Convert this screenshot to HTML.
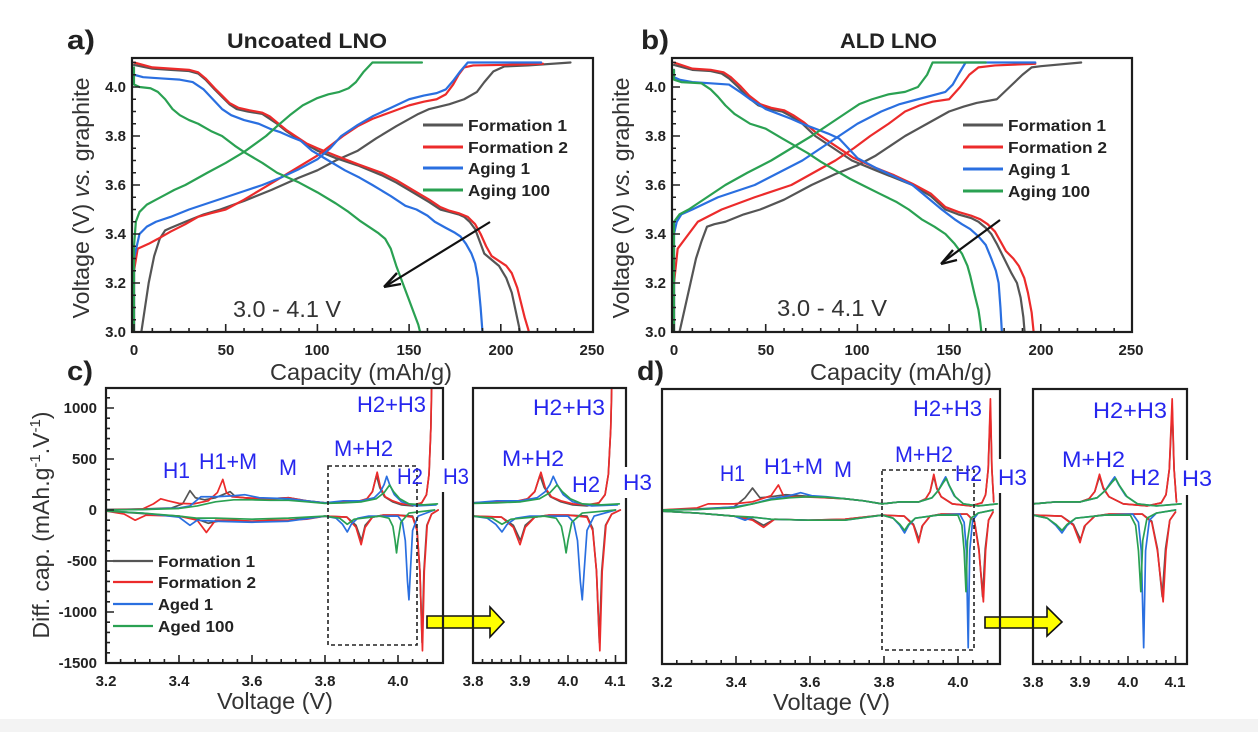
<!DOCTYPE html>
<html><head><meta charset="utf-8"><style>
html,body{margin:0;padding:0;background:#fff;}
svg{display:block;}
text{font-family:"Liberation Sans",Arial,sans-serif;}
polyline,path{vector-effect:non-scaling-stroke;}
.c1{stroke:#555;}.c2{stroke:#ec2b2b;}.c3{stroke:#2a6fe0;}.c4{stroke:#2aa152;}
.cv polyline{fill:none;stroke-width:2.2;stroke-linejoin:round;stroke-linecap:round;}
.dq polyline{fill:none;stroke-width:1.7;stroke-linejoin:round;stroke-linecap:round;}
.tk{fill:none;stroke:#222;stroke-width:1.6;}
.fr{fill:none;stroke:#1d1d1d;stroke-width:2.2;}
.tl{font-weight:bold;font-size:15px;fill:#222;}
.lg{font-weight:bold;font-size:16px;fill:#222;}
.ax{font-size:23px;fill:#333;}
.bl{font-size:22px;fill:#2626ee;}
</style></head><body>
<svg width="1258" height="732" viewBox="0 0 1258 732" xmlns="http://www.w3.org/2000/svg">
<defs>
<clipPath id="ca"><rect x="132" y="58" width="461" height="274"/></clipPath>
<clipPath id="cb"><rect x="672" y="58" width="460" height="274"/></clipPath>
<clipPath id="cc"><rect x="106" y="388" width="337" height="275"/></clipPath>
<clipPath id="cci"><rect x="473" y="388" width="153" height="275"/></clipPath>
<clipPath id="cd"><rect x="662" y="389" width="338" height="275"/></clipPath>
<clipPath id="cdi"><rect x="1033" y="389" width="154" height="275"/></clipPath>
</defs>
<rect x="0" y="0" width="1258" height="732" fill="#fff"/>
<rect x="0" y="719" width="1258" height="13" fill="#f3f3f3"/>

<!-- ============ PANEL A ============ -->
<g clip-path="url(#ca)"><g class="cv" transform="translate(134 1067) scale(1.834 -2.45)">
<polyline class="c1" points="4,300 6,310 8,320 11,331 14,338 17,341.5 20,342.5 28,345 38,348 47,350 60,353.5 75,358 90,363 100,366 110,370 122,374 132,379 143,384 155,389 161,391 172,393 180,395 187,398 191,402 196,406.4 202,408.4 215,408.8 238,410"/>
<polyline class="c1" points="0,409 10,407.5 20,407 30,406.5 35,405.5 39,403 44,399 48,396 52,393 56,391 62,390 70,389 74,387 78,385 83,382 87,380 93,377 100,374 110,371 122,368 135,364 143,361 152,357 161,353 167,350 172,349 177,348 180,347 183,345 186,342 189,336 191,332 195,329.5 199,327 203,322 206,316 208,309 210,302 211,297"/>
<polyline class="c2" points="0,297 0,325 2,334 8,336 13,338 20,341 28,344 35,347 42,348.5 50,350 55,352 60,354 70,358.5 80,363 90,367.5 100,372 107,376 114,380 122,384 130,387 141,390 150,392.5 158,394 165,395 170,397 174,401 177,405 180,408 185,408.8 200,409 223,409.5"/>
<polyline class="c2" points="0,410 10,408 20,407.5 30,407 35,406 39,403.5 44,399.5 48,396.5 52,393.5 57,391.5 63,390.5 70,389.5 74,388 78,385.5 83,382.5 88,380 94,377 100,375 110,372 122,368.5 135,365 143,362 152,358 161,354 167,351 172,349.5 177,348.5 182,347 186,344 189,340 192,335 195,331 199,329 203,327 206,324 209,318 211,312 213,306 215,301 216,297"/>
<polyline class="c3" points="0,297 0,330 3,340 7,343 12,345 20,347 30,350 40,352.5 50,355 60,357.5 70,360 80,363 90,366.5 100,370.5 107,375 113,380 122,384.5 130,388 140,391.5 150,395 158,396.5 165,397.5 170,399 174,402.5 178,406.5 182,410 222,410"/>
<polyline class="c3" points="0,405 5,404 15,403.5 25,403 32,402 38,399 43,395 48,391 53,388.5 60,386.5 68,385 74,383 80,381.5 86,379.5 91,378 97,374 106,370 115,366 123,363 130,360 140,355.5 148,351.5 154,350 160,347.5 164,345 170,342.5 175,340.5 178,339 181,336 184,332 186,328 187.5,322 189,310 190,300 190.5,297"/>
<polyline class="c4" points="0,297 0,335 1,345 3,349 7,352 12,354 17,356 22,358 28,360 40,365 50,369 60,373.5 72,380 78,384 85,388.5 92,392.5 100,395.5 106,397 112,398 117,399.5 121,402 125,406 130,410 157,410"/>
<polyline class="c4" points="0,408 0,401 3,400 9,399.5 13,398 17,395 21,391 25,388.5 30,386.5 35,385 42,382 48,380 55,376 61,373 70,369 78,365 90,361 100,357 110,352.5 117,349 123,345.5 128,343 133,340.5 137,338 140,334 143,327 147,319 150,313 153,307 155,303 157,297"/>
</g></g>
<path class="tk" transform="translate(134 0) scale(1.834 1)" d="M0 332v-8M50 332v-8M100 332v-8M150 332v-8M200 332v-8M10 332v-4M20 332v-4M30 332v-4M40 332v-4M60 332v-4M70 332v-4M80 332v-4M90 332v-4M110 332v-4M120 332v-4M130 332v-4M140 332v-4M160 332v-4M170 332v-4M180 332v-4M190 332v-4M210 332v-4M220 332v-4M230 332v-4M240 332v-4"/>
<path class="tk" transform="translate(0 1067) scale(1 -2.45)" d="M132 320h8M132 340h8M132 360h8M132 380h8M132 400h8M132 305h4M132 310h4M132 315h4M132 325h4M132 330h4M132 335h4M132 345h4M132 350h4M132 355h4M132 365h4M132 370h4M132 375h4M132 385h4M132 390h4M132 395h4M132 405h4M132 410h4"/>
<rect class="fr" x="132" y="58" width="461" height="274"/>
<path d="M490 222L386 286" stroke="#111" stroke-width="2.2" fill="none"/>
<path d="M384 287L397 273M384 287L401 284" stroke="#111" stroke-width="2.4" fill="none"/>
<g stroke-width="3"><path class="c1" d="M423 125h40"/><path class="c2" d="M423 147h40"/><path class="c3" d="M423 168h40"/><path class="c4" d="M423 190h40"/></g>
<text class="lg" x="468" y="131" textLength="99" lengthAdjust="spacingAndGlyphs">Formation 1</text>
<text class="lg" x="468" y="153" textLength="100" lengthAdjust="spacingAndGlyphs">Formation 2</text>
<text class="lg" x="468" y="174" textLength="62" lengthAdjust="spacingAndGlyphs">Aging 1</text>
<text class="lg" x="468" y="196" textLength="82" lengthAdjust="spacingAndGlyphs">Aging 100</text>
<g class="tl" text-anchor="middle"><text x="134" y="355">0</text><text x="226" y="355">50</text><text x="317" y="355">100</text><text x="409" y="355">150</text><text x="501" y="355">200</text><text x="592" y="355">250</text></g>
<g class="tl" text-anchor="end"><text x="126" y="337">3.0</text><text x="126" y="288">3.2</text><text x="126" y="239">3.4</text><text x="126" y="190">3.6</text><text x="126" y="141">3.8</text><text x="126" y="92">4.0</text></g>
<text x="67" y="49" font-size="27" font-weight="bold" fill="#222" textLength="28" lengthAdjust="spacingAndGlyphs">a)</text>
<text x="227" y="48" font-size="21" font-weight="bold" fill="#222" textLength="160" lengthAdjust="spacingAndGlyphs">Uncoated LNO</text>
<text class="ax" x="233" y="317" textLength="108" lengthAdjust="spacingAndGlyphs">3.0 - 4.1 V</text>
<text class="ax" x="270" y="380" textLength="182" lengthAdjust="spacingAndGlyphs">Capacity (mAh/g)</text>
<text class="ax" transform="translate(89 198) rotate(-90)" text-anchor="middle" textLength="241" lengthAdjust="spacingAndGlyphs">Voltage (V) <tspan font-style="italic">vs.</tspan> graphite</text>

<!-- ============ PANEL B ============ -->
<g clip-path="url(#cb)"><g class="cv" transform="translate(674 1067) scale(1.834 -2.45)">
<polyline class="c1" points="3,300 6,310 9,320 12,330 15,337 18,343 22,344 28,345 38,348 47,350 60,354 75,360 88,364.5 100,368 110,372 126,380 138,385 150,390 158,392 165,393.5 176,395 183,400 190,405 195,408 200,408.5 222,410"/>
<polyline class="c1" points="0,409 10,407 20,406.5 26,405.5 30,403.5 35,400 40,396 46,392.5 52,391 59,390 64,388 70,385 77,380 87,375 97,370 110,366 120,363 130,360 140,355.5 148,350 155,348 162,346.5 166,345 170,342.5 173,340 176,336 180,330 184,324 187,320 189,314 190.5,306 191.5,297"/>
<polyline class="c2" points="0,297 0,320 2,334 6,338 13,345 26,350 44,355 64,360 76,365 88,370 98,375 107,380 117,385 126,390 134,392.5 141,394 150,395 156,400 161,405 166,408 175,408.8 197,409.5"/>
<polyline class="c2" points="0,410 10,407.5 20,407 27,406 31,404 36,400.5 41,396.5 47,393 53,391.5 60,390.5 65,388.5 71,385.5 78,381 88,376 98,371 110,367 120,364 130,360.5 140,356.5 148,351 155,349 162,347.5 167,346 171,344 175,341 178,337 181,333 185,330 188,327 191,322 193,316 195,308 196.5,297"/>
<polyline class="c3" points="0,297 0,340 1.5,345 4,348 10,350 24,355 44,360 57,365 70,370 80,375 90,380 100,385 113,390 123,393 133,395 148,398 152,401 155,405 159,410 197,410"/>
<polyline class="c3" points="0,407 0,404 3,403 10,402 20,401.5 30,401 36,398 41.5,395 46,393 50,391 57,389 64,387 70,385 77,383 84,381 90,379 95,375 100,371 110,367 120,363.5 130,360 138,355 146,350 153,346 157,344 161.5,342 166,339 170,335.5 173,330 175.5,325 177,320 178,310 179,297"/>
<polyline class="c4" points="0,297 0,345 3,348 8,350 18,355 28,360 40,365 53,370 64,375 75,380 85,385 95,390 101,393 108,395 117,397 126,398 133,400 138,405 141,410 170,410"/>
<polyline class="c4" points="0,407 0,403 4,402 15,401.5 20,399 24,396 28,392.5 33,389 41.5,385 50,383 59,379 66,376 73,373 80,369.5 88,366 96,362.5 104,359.5 112,356.5 121.5,353 128,350 135,346 142,343 148,340 153,336 157,332 160,327 161.5,323 164,315 166,309 167,304 168,297"/>
</g></g>
<path class="tk" transform="translate(674 0) scale(1.834 1)" d="M0 332v-8M50 332v-8M100 332v-8M150 332v-8M200 332v-8M10 332v-4M20 332v-4M30 332v-4M40 332v-4M60 332v-4M70 332v-4M80 332v-4M90 332v-4M110 332v-4M120 332v-4M130 332v-4M140 332v-4M160 332v-4M170 332v-4M180 332v-4M190 332v-4M210 332v-4M220 332v-4M230 332v-4M240 332v-4"/>
<path class="tk" transform="translate(0 1067) scale(1 -2.45)" d="M672 320h8M672 340h8M672 360h8M672 380h8M672 400h8M672 305h4M672 310h4M672 315h4M672 325h4M672 330h4M672 335h4M672 345h4M672 350h4M672 355h4M672 365h4M672 370h4M672 375h4M672 385h4M672 390h4M672 395h4M672 405h4M672 410h4"/>
<rect class="fr" x="672" y="58" width="460" height="274"/>
<path d="M1000 220L943 262" stroke="#111" stroke-width="2.2" fill="none"/>
<path d="M941 264L953 250M941 264L957 260" stroke="#111" stroke-width="2.4" fill="none"/>
<g stroke-width="3"><path class="c1" d="M963 125h40"/><path class="c2" d="M963 147h40"/><path class="c3" d="M963 169h40"/><path class="c4" d="M963 191h40"/></g>
<text class="lg" x="1008" y="131" textLength="98" lengthAdjust="spacingAndGlyphs">Formation 1</text>
<text class="lg" x="1008" y="153" textLength="99" lengthAdjust="spacingAndGlyphs">Formation 2</text>
<text class="lg" x="1008" y="175" textLength="62" lengthAdjust="spacingAndGlyphs">Aging 1</text>
<text class="lg" x="1008" y="197" textLength="82" lengthAdjust="spacingAndGlyphs">Aging 100</text>
<g class="tl" text-anchor="middle"><text x="674" y="355">0</text><text x="766" y="355">50</text><text x="857" y="355">100</text><text x="949" y="355">150</text><text x="1041" y="355">200</text><text x="1131" y="355">250</text></g>
<g class="tl" text-anchor="end"><text x="666" y="337">3.0</text><text x="666" y="288">3.2</text><text x="666" y="239">3.4</text><text x="666" y="190">3.6</text><text x="666" y="141">3.8</text><text x="666" y="92">4.0</text></g>
<text x="641" y="49" font-size="27" font-weight="bold" fill="#222" textLength="28" lengthAdjust="spacingAndGlyphs">b)</text>
<text x="840" y="48" font-size="21" font-weight="bold" fill="#222" textLength="97" lengthAdjust="spacingAndGlyphs">ALD LNO</text>
<text class="ax" x="777" y="316" textLength="110" lengthAdjust="spacingAndGlyphs">3.0 - 4.1 V</text>
<text class="ax" x="810" y="380" textLength="182" lengthAdjust="spacingAndGlyphs">Capacity (mAh/g)</text>
<text class="ax" transform="translate(629 198) rotate(-90)" text-anchor="middle" textLength="241" lengthAdjust="spacingAndGlyphs">Voltage (V) <tspan font-style="italic">vs.</tspan> graphite</text>

<!-- yellow arrows -->
<path d="M427 616H490V607L504 622L490 637V628H427Z" fill="#ffff00" stroke="#111" stroke-width="1.6"/>
<path d="M985 617H1047V607L1062 622L1047 636V628H985Z" fill="#ffff00" stroke="#111" stroke-width="1.6"/>

<!-- ============ PANEL C main ============ -->
<g clip-path="url(#cc)"><g class="dq" transform="translate(-1062 510) scale(0.365 -0.102)">
<polyline class="c1" points="3200,5 3300,10 3380,20 3410,60 3430,190 3445,120 3470,100 3500,120 3520,150 3540,180 3555,130 3600,110 3650,110 3700,120 3750,90 3800,70 3850,80 3890,80 3915,110 3930,180 3941,340 3950,220 3963,130 3985,80 4010,50 4040,40 4065,70 4078,150 4085,350 4090,800 4093,1400"/>
<polyline class="c1" points="3200,-10 3280,-30 3400,-60 3450,-90 3480,-130 3520,-100 3600,-110 3700,-100 3800,-60 3860,-70 3885,-150 3900,-300 3910,-150 3930,-70 3960,-50 4000,-50 4040,-60 4052,-180 4060,-600 4066,-1300 4071,-600 4079,-150 4092,-40 4110,0"/>
<polyline class="c2" points="3200,0 3300,10 3330,60 3350,110 3370,90 3400,65 3440,60 3480,90 3505,170 3520,300 3530,170 3545,130 3580,120 3650,110 3700,120 3750,90 3800,70 3850,80 3890,85 3915,110 3930,180 3943,370 3952,220 3965,130 3985,90 4010,60 4040,50 4065,70 4078,150 4085,350 4090,800 4093,1400"/>
<polyline class="c2" points="3200,-10 3250,-40 3280,-100 3310,-50 3400,-60 3450,-100 3475,-220 3500,-100 3550,-100 3600,-110 3650,-100 3700,-100 3750,-90 3800,-60 3860,-70 3885,-170 3899,-340 3910,-170 3930,-70 3960,-50 4000,-50 4040,-70 4052,-200 4060,-600 4067,-1380 4072,-600 4080,-150 4092,-40 4110,0"/>
<polyline class="c3" points="3200,0 3300,5 3400,20 3430,40 3460,130 3500,130 3550,140 3580,150 3620,120 3700,110 3750,90 3800,70 3850,90 3900,90 3935,120 3952,180 3962,250 3969,330 3977,250 3990,150 4010,80 4050,40 4104,50"/>
<polyline class="c3" points="3200,-10 3300,-30 3400,-70 3430,-150 3450,-100 3500,-110 3600,-120 3700,-110 3800,-60 3830,-80 3848,-140 3861,-215 3872,-140 3890,-80 3920,-60 4000,-60 4012,-120 4020,-300 4026,-700 4030,-880 4034,-600 4040,-200 4055,-60 4100,0"/>
<polyline class="c4" points="3200,0 3300,5 3400,15 3450,40 3500,80 3550,100 3600,100 3650,95 3700,95 3750,80 3800,65 3850,70 3900,80 3940,110 3962,170 3977,245 3988,180 4005,110 4030,60 4070,50 4108,60"/>
<polyline class="c4" points="3200,-10 3300,-30 3400,-60 3450,-80 3500,-80 3600,-90 3700,-80 3800,-60 3840,-80 3861,-140 3880,-90 3950,-60 3975,-80 3986,-160 3992,-300 3996,-420 4000,-300 4008,-120 4030,-30 4100,0"/>
</g></g>
<!-- ============ PANEL C inset ============ -->
<g clip-path="url(#cci)"><g class="dq" transform="translate(-1332 510) scale(0.475 -0.102)">
<polyline class="c1" points="3200,5 3300,10 3380,20 3410,60 3430,190 3445,120 3470,100 3500,120 3520,150 3540,180 3555,130 3600,110 3650,110 3700,120 3750,90 3800,70 3850,80 3890,80 3915,110 3930,180 3941,340 3950,220 3963,130 3985,80 4010,50 4040,40 4065,70 4078,150 4085,350 4090,800 4093,1400"/>
<polyline class="c1" points="3200,-10 3280,-30 3400,-60 3450,-90 3480,-130 3520,-100 3600,-110 3700,-100 3800,-60 3860,-70 3885,-150 3900,-300 3910,-150 3930,-70 3960,-50 4000,-50 4040,-60 4052,-180 4060,-600 4066,-1300 4071,-600 4079,-150 4092,-40 4110,0"/>
<polyline class="c2" points="3200,0 3300,10 3330,60 3350,110 3370,90 3400,65 3440,60 3480,90 3505,170 3520,300 3530,170 3545,130 3580,120 3650,110 3700,120 3750,90 3800,70 3850,80 3890,85 3915,110 3930,180 3943,370 3952,220 3965,130 3985,90 4010,60 4040,50 4065,70 4078,150 4085,350 4090,800 4093,1400"/>
<polyline class="c2" points="3200,-10 3250,-40 3280,-100 3310,-50 3400,-60 3450,-100 3475,-220 3500,-100 3550,-100 3600,-110 3650,-100 3700,-100 3750,-90 3800,-60 3860,-70 3885,-170 3899,-340 3910,-170 3930,-70 3960,-50 4000,-50 4040,-70 4052,-200 4060,-600 4067,-1380 4072,-600 4080,-150 4092,-40 4110,0"/>
<polyline class="c3" points="3200,0 3300,5 3400,20 3430,40 3460,130 3500,130 3550,140 3580,150 3620,120 3700,110 3750,90 3800,70 3850,90 3900,90 3935,120 3952,180 3962,250 3969,330 3977,250 3990,150 4010,80 4050,40 4104,50"/>
<polyline class="c3" points="3200,-10 3300,-30 3400,-70 3430,-150 3450,-100 3500,-110 3600,-120 3700,-110 3800,-60 3830,-80 3848,-140 3861,-215 3872,-140 3890,-80 3920,-60 4000,-60 4012,-120 4020,-300 4026,-700 4030,-880 4034,-600 4040,-200 4055,-60 4100,0"/>
<polyline class="c4" points="3200,0 3300,5 3400,15 3450,40 3500,80 3550,100 3600,100 3650,95 3700,95 3750,80 3800,65 3850,70 3900,80 3940,110 3962,170 3977,245 3988,180 4005,110 4030,60 4070,50 4108,60"/>
<polyline class="c4" points="3200,-10 3300,-30 3400,-60 3450,-80 3500,-80 3600,-90 3700,-80 3800,-60 3840,-80 3861,-140 3880,-90 3950,-60 3975,-80 3986,-160 3992,-300 3996,-420 4000,-300 4008,-120 4030,-30 4100,0"/>
</g></g>
<path class="tk" transform="translate(-1062 0) scale(0.365 1)" d="M3400 663v-8M3600 663v-8M3800 663v-8M4000 663v-8M3240 663v-4M3280 663v-4M3320 663v-4M3360 663v-4M3440 663v-4M3480 663v-4M3520 663v-4M3560 663v-4M3640 663v-4M3680 663v-4M3720 663v-4M3760 663v-4M3840 663v-4M3880 663v-4M3920 663v-4M3960 663v-4M4040 663v-4M4080 663v-4"/>
<path class="tk" transform="translate(0 510) scale(1 -0.102)" d="M106 -1000h8M106 -500h8M106 0h8M106 500h8M106 1000h8M106 -1400h4M106 -1300h4M106 -1200h4M106 -1100h4M106 -900h4M106 -800h4M106 -700h4M106 -600h4M106 -400h4M106 -300h4M106 -200h4M106 -100h4M106 100h4M106 200h4M106 300h4M106 400h4M106 600h4M106 700h4M106 800h4M106 900h4M106 1100h4"/>
<path class="tk" transform="translate(-1332 0) scale(0.475 1)" d="M3900 663v-8M4000 663v-8M4100 663v-8M3820 663v-4M3840 663v-4M3860 663v-4M3880 663v-4M3920 663v-4M3940 663v-4M3960 663v-4M3980 663v-4M4020 663v-4M4040 663v-4M4060 663v-4M4080 663v-4"/>
<rect class="fr" x="106" y="388" width="337" height="275"/>
<rect class="fr" x="473" y="388" width="153" height="275"/>
<rect x="328" y="466" width="89" height="179" fill="none" stroke="#222" stroke-width="1.6" stroke-dasharray="4 3"/>
<g stroke-width="2.2"><path class="c1" d="M113 561h40"/><path class="c2" d="M113 582h40"/><path class="c3" d="M113 604h40"/><path class="c4" d="M113 626h40"/></g>
<text class="lg" x="158" y="567" textLength="97" lengthAdjust="spacingAndGlyphs">Formation 1</text>
<text class="lg" x="158" y="588" textLength="98" lengthAdjust="spacingAndGlyphs">Formation 2</text>
<text class="lg" x="158" y="610" textLength="55" lengthAdjust="spacingAndGlyphs">Aged 1</text>
<text class="lg" x="158" y="632" textLength="76" lengthAdjust="spacingAndGlyphs">Aged 100</text>
<g class="tl" text-anchor="end"><text x="97" y="413">1000</text><text x="97" y="464">500</text><text x="97" y="515">0</text><text x="97" y="566">-500</text><text x="97" y="617">-1000</text><text x="97" y="668">-1500</text></g>
<g class="tl" text-anchor="middle"><text x="106" y="686">3.2</text><text x="179" y="686">3.4</text><text x="252" y="686">3.6</text><text x="325" y="686">3.8</text><text x="398" y="686">4.0</text>
<text x="473" y="686">3.8</text><text x="520" y="686">3.9</text><text x="568" y="686">4.0</text><text x="615" y="686">4.1</text></g>
<text x="67" y="380" font-size="27" font-weight="bold" fill="#222" textLength="26" lengthAdjust="spacingAndGlyphs">c)</text>
<text class="ax" x="217" y="709" textLength="116" lengthAdjust="spacingAndGlyphs">Voltage (V)</text>
<text class="ax" transform="translate(49 525) rotate(-90)" text-anchor="middle" font-size="23">Diff. cap. (mAh.g<tspan font-size="15" dy="-9">-1</tspan><tspan dy="9">.V</tspan><tspan font-size="15" dy="-9">-1</tspan><tspan dy="9">)</tspan></text>
<g class="bl">
<text x="163" y="478" textLength="27" lengthAdjust="spacingAndGlyphs">H1</text>
<text x="199" y="469" textLength="58" lengthAdjust="spacingAndGlyphs">H1+M</text>
<text x="279" y="475" textLength="18" lengthAdjust="spacingAndGlyphs">M</text>
<text x="334" y="456" textLength="59" lengthAdjust="spacingAndGlyphs">M+H2</text>
<text x="397" y="484" textLength="26" lengthAdjust="spacingAndGlyphs">H2</text>
<text x="357" y="412" textLength="69" lengthAdjust="spacingAndGlyphs">H2+H3</text>
<text x="533" y="415" textLength="72" lengthAdjust="spacingAndGlyphs">H2+H3</text>
<text x="502" y="466" textLength="62" lengthAdjust="spacingAndGlyphs">M+H2</text>
<text x="572" y="492" textLength="28" lengthAdjust="spacingAndGlyphs">H2</text>
</g>
<rect x="439" y="460" width="32" height="32" fill="#fff"/>
<text class="bl" x="443" y="484" textLength="26" lengthAdjust="spacingAndGlyphs">H3</text>
<rect x="621" y="467" width="33" height="31" fill="#fff"/>
<text class="bl" x="623" y="490" textLength="29" lengthAdjust="spacingAndGlyphs">H3</text>

<!-- ============ PANEL D main ============ -->
<g clip-path="url(#cd)"><g class="dq" transform="translate(-524 510) scale(0.37 -0.102)">
<polyline class="c1" points="3200,0 3300,10 3400,30 3430,120 3450,215 3470,120 3500,130 3540,150 3580,140 3650,120 3700,110 3750,90 3800,60 3850,80 3900,80 3918,110 3930,180 3940,330 3948,210 3960,130 3990,60 4040,40 4070,70 4080,150 4087,400 4093,1000 4097,400 4102,80"/>
<polyline class="c1" points="3200,-10 3300,-30 3400,-60 3450,-90 3480,-150 3510,-90 3600,-100 3700,-90 3800,-50 3860,-60 3885,-140 3900,-290 3910,-150 3930,-60 3960,-40 4030,-40 4050,-110 4062,-380 4072,-850 4079,-380 4088,-100 4100,-20"/>
<polyline class="c2" points="3200,0 3300,20 3330,60 3400,60 3450,80 3500,140 3520,245 3535,130 3580,130 3650,120 3700,110 3750,90 3800,60 3850,80 3900,80 3918,110 3930,180 3940,350 3948,220 3960,130 3990,60 4040,40 4070,70 4080,150 4087,400 4093,1090 4097,400 4102,80"/>
<polyline class="c2" points="3200,-10 3300,-30 3400,-60 3450,-100 3480,-170 3510,-90 3600,-100 3700,-90 3800,-50 3860,-60 3885,-150 3899,-320 3908,-160 3930,-60 3960,-40 4030,-40 4050,-120 4062,-400 4074,-900 4080,-400 4088,-100 4100,-20"/>
<polyline class="c3" points="3200,0 3300,5 3400,30 3450,60 3500,110 3550,140 3580,170 3610,140 3650,130 3700,110 3750,90 3800,60 3850,80 3900,80 3935,120 3952,190 3965,280 3972,325 3980,250 3995,140 4020,60 4060,40 4110,60"/>
<polyline class="c3" points="3200,-10 3300,-30 3400,-60 3430,-100 3450,-70 3500,-90 3600,-100 3700,-100 3800,-50 3830,-80 3848,-150 3861,-225 3872,-150 3890,-80 3950,-50 4010,-40 4022,-120 4028,-400 4033,-1350 4037,-400 4045,-100 4060,-30 4100,0"/>
<polyline class="c4" points="3200,0 3300,5 3400,20 3450,60 3500,100 3550,120 3600,130 3650,125 3700,110 3750,90 3800,60 3850,80 3900,80 3935,120 3952,190 3966,270 3974,310 3982,240 3998,130 4020,60 4060,40 4112,60"/>
<polyline class="c4" points="3200,-10 3300,-30 3400,-60 3450,-70 3500,-90 3600,-100 3700,-100 3800,-50 3830,-80 3848,-140 3861,-200 3872,-140 3890,-80 3950,-50 4005,-50 4016,-150 4022,-400 4027,-800 4031,-300 4040,-80 4060,-30 4100,0"/>
</g></g>
<!-- ============ PANEL D inset ============ -->
<g clip-path="url(#cdi)"><g class="dq" transform="translate(-772 510) scale(0.475 -0.102)">
<polyline class="c1" points="3200,0 3300,10 3400,30 3430,120 3450,215 3470,120 3500,130 3540,150 3580,140 3650,120 3700,110 3750,90 3800,60 3850,80 3900,80 3918,110 3930,180 3940,330 3948,210 3960,130 3990,60 4040,40 4070,70 4080,150 4087,400 4093,1000 4097,400 4102,80"/>
<polyline class="c1" points="3200,-10 3300,-30 3400,-60 3450,-90 3480,-150 3510,-90 3600,-100 3700,-90 3800,-50 3860,-60 3885,-140 3900,-290 3910,-150 3930,-60 3960,-40 4030,-40 4050,-110 4062,-380 4072,-850 4079,-380 4088,-100 4100,-20"/>
<polyline class="c2" points="3200,0 3300,20 3330,60 3400,60 3450,80 3500,140 3520,245 3535,130 3580,130 3650,120 3700,110 3750,90 3800,60 3850,80 3900,80 3918,110 3930,180 3940,350 3948,220 3960,130 3990,60 4040,40 4070,70 4080,150 4087,400 4093,1090 4097,400 4102,80"/>
<polyline class="c2" points="3200,-10 3300,-30 3400,-60 3450,-100 3480,-170 3510,-90 3600,-100 3700,-90 3800,-50 3860,-60 3885,-150 3899,-320 3908,-160 3930,-60 3960,-40 4030,-40 4050,-120 4062,-400 4074,-900 4080,-400 4088,-100 4100,-20"/>
<polyline class="c3" points="3200,0 3300,5 3400,30 3450,60 3500,110 3550,140 3580,170 3610,140 3650,130 3700,110 3750,90 3800,60 3850,80 3900,80 3935,120 3952,190 3965,280 3972,325 3980,250 3995,140 4020,60 4060,40 4110,60"/>
<polyline class="c3" points="3200,-10 3300,-30 3400,-60 3430,-100 3450,-70 3500,-90 3600,-100 3700,-100 3800,-50 3830,-80 3848,-150 3861,-225 3872,-150 3890,-80 3950,-50 4010,-40 4022,-120 4028,-400 4033,-1350 4037,-400 4045,-100 4060,-30 4100,0"/>
<polyline class="c4" points="3200,0 3300,5 3400,20 3450,60 3500,100 3550,120 3600,130 3650,125 3700,110 3750,90 3800,60 3850,80 3900,80 3935,120 3952,190 3966,270 3974,310 3982,240 3998,130 4020,60 4060,40 4112,60"/>
<polyline class="c4" points="3200,-10 3300,-30 3400,-60 3450,-70 3500,-90 3600,-100 3700,-100 3800,-50 3830,-80 3848,-140 3861,-200 3872,-140 3890,-80 3950,-50 4005,-50 4016,-150 4022,-400 4027,-800 4031,-300 4040,-80 4060,-30 4100,0"/>
</g></g>
<path class="tk" transform="translate(-522 0) scale(0.37 1)" d="M3400 664v-8M3600 664v-8M3800 664v-8M4000 664v-8M3240 664v-4M3280 664v-4M3320 664v-4M3360 664v-4M3440 664v-4M3480 664v-4M3520 664v-4M3560 664v-4M3640 664v-4M3680 664v-4M3720 664v-4M3760 664v-4M3840 664v-4M3880 664v-4M3920 664v-4M3960 664v-4M4040 664v-4M4080 664v-4"/>
<path class="tk" transform="translate(-772 0) scale(0.475 1)" d="M3900 664v-8M4000 664v-8M4100 664v-8M3820 664v-4M3840 664v-4M3860 664v-4M3880 664v-4M3920 664v-4M3940 664v-4M3960 664v-4M3980 664v-4M4020 664v-4M4040 664v-4M4060 664v-4M4080 664v-4"/>
<rect class="fr" x="662" y="389" width="338" height="275"/>
<rect class="fr" x="1033" y="389" width="154" height="275"/>
<rect x="882" y="470" width="92" height="180" fill="none" stroke="#222" stroke-width="1.6" stroke-dasharray="4 3"/>
<g class="tl" text-anchor="middle"><text x="662" y="687">3.2</text><text x="736" y="687">3.4</text><text x="810" y="687">3.6</text><text x="884" y="687">3.8</text><text x="958" y="687">4.0</text>
<text x="1033" y="687">3.8</text><text x="1080" y="687">3.9</text><text x="1128" y="687">4.0</text><text x="1175" y="687">4.1</text></g>
<text x="637" y="380" font-size="27" font-weight="bold" fill="#222" textLength="27" lengthAdjust="spacingAndGlyphs">d)</text>
<text class="ax" x="773" y="710" textLength="117" lengthAdjust="spacingAndGlyphs">Voltage (V)</text>
<g class="bl">
<text x="720" y="481" textLength="25" lengthAdjust="spacingAndGlyphs">H1</text>
<text x="764" y="474" textLength="59" lengthAdjust="spacingAndGlyphs">H1+M</text>
<text x="834" y="477" textLength="18" lengthAdjust="spacingAndGlyphs">M</text>
<text x="895" y="462" textLength="58" lengthAdjust="spacingAndGlyphs">M+H2</text>
<text x="955" y="481" textLength="27" lengthAdjust="spacingAndGlyphs">H2</text>
<text x="913" y="416" textLength="69" lengthAdjust="spacingAndGlyphs">H2+H3</text>
<text x="1093" y="418" textLength="74" lengthAdjust="spacingAndGlyphs">H2+H3</text>
<text x="1062" y="467" textLength="63" lengthAdjust="spacingAndGlyphs">M+H2</text>
<text x="1130" y="485" textLength="30" lengthAdjust="spacingAndGlyphs">H2</text>
</g>
<rect x="996" y="459" width="33" height="34" fill="#fff"/>
<text class="bl" x="998" y="485" textLength="29" lengthAdjust="spacingAndGlyphs">H3</text>
<rect x="1180" y="460" width="34" height="35" fill="#fff"/>
<text class="bl" x="1182" y="486" textLength="30" lengthAdjust="spacingAndGlyphs">H3</text>
</svg>
</body></html>
